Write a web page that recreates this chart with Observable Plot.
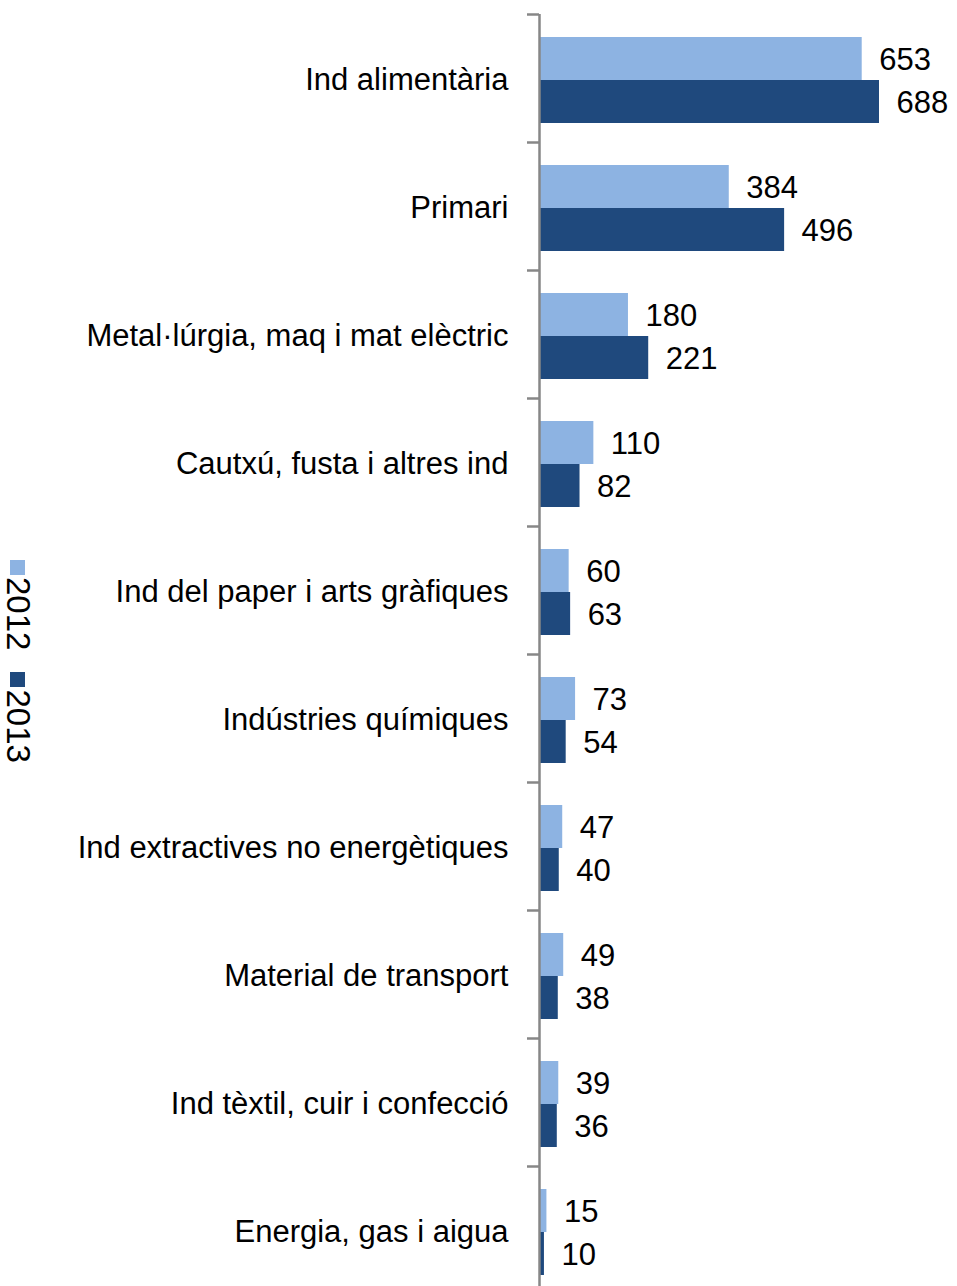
<!DOCTYPE html>
<html>
<head>
<meta charset="utf-8">
<script src="https://cdn.jsdelivr.net/npm/d3@7"></script>
<script src="https://cdn.jsdelivr.net/npm/@observablehq/plot@0.6"></script>
<style>
  body { margin: 0; background: #fff; font-family: "Liberation Sans", Arial, sans-serif; }
  #wrap { position: relative; width: 957px; height: 1286px; overflow: hidden; }
  #legend {
    position: absolute; left: 35px; top: 560px;
    width: max-content;
    transform-origin: top left; transform: rotate(90deg);
    display: flex; flex-wrap: nowrap; align-items: center; height: 34px;
    font-size: 33px; line-height: 34px; color: #000; white-space: nowrap;
  }
  #legend .sw { flex: none; width: 15px; height: 15px; margin-right: 2px; display: inline-block; }
  #legend .item { flex: none; display: flex; align-items: center; margin-right: 22px; white-space: nowrap; }
</style>
</head>
<body>
<div id="wrap"><div id="chart"></div><div id="legend"></div></div>
<script>
const categories = ["Ind alimentària","Primari","Metal·lúrgia, maq i mat elèctric","Cautxú, fusta i altres ind","Ind del paper i arts gràfiques","Indústries químiques","Ind extractives no energètiques","Material de transport","Ind tèxtil, cuir i confecció","Energia, gas i aigua"];
const years = ["2012", "2013"];
const values2012 = [653, 384, 180, 110, 60, 73, 47, 49, 39, 15];
const values2013 = [688, 496, 221, 82, 63, 54, 40, 38, 36, 10];
const colors = ["#8DB3E2", "#1F497D"];

const data = [];
categories.forEach((c, i) => {
  data.push({category: c, year: years[0], value: values2012[i]});
  data.push({category: c, year: years[1], value: values2013[i]});
});

const W = 957, H = 1286, plotTop = 14, bandStep = 128;
const bottomMargin = H - (plotTop + bandStep * categories.length);
const FONT = "Liberation Sans, Arial, sans-serif";

const chart = Plot.plot({
  width: W,
  height: H,
  marginTop: plotTop,
  marginBottom: bottomMargin,
  marginLeft: 539,
  marginRight: 78,
  style: {fontFamily: FONT, fontSize: "30px", color: "#000", background: "transparent"},
  x: {domain: [0, 688], axis: null},
  y: {domain: years, paddingInner: 0, paddingOuter: 0.471, align: 0.54, axis: null},
  fy: {domain: categories, padding: 0, axis: null, label: null},
  color: {domain: years, range: colors},
  marks: [
    Plot.barX(data, {fy: "category", y: "year", x: "value", fill: "year"}),
    Plot.ruleX([0], {stroke: "#878787", strokeWidth: 2.5}),
    Plot.axisFy({anchor: "left", tickSize: 12, text: null, label: null, stroke: "#878787", strokeWidth: 2.5, dy: -bandStep / 2}),
    Plot.axisFy({anchor: "left", tickSize: 0, tickPadding: 31, fontSize: 31, fill: "#000", label: null, dy: 2}),
    Plot.text(data, {fy: "category", y: "year", x: "value", text: d => String(d.value), dx: 17, dy: 1, textAnchor: "start", fontSize: 31, fill: "#000"})
  ]
});
document.getElementById("chart").appendChild(chart);

const legend = document.getElementById("legend");
years.forEach((y, i) => {
  const item = document.createElement("span");
  item.className = "item";
  const sw = document.createElement("span");
  sw.className = "sw";
  sw.style.background = colors[i];
  const label = document.createElement("span");
  label.textContent = y;
  item.appendChild(sw);
  item.appendChild(label);
  legend.appendChild(item);
});
</script>
</body>
</html>
